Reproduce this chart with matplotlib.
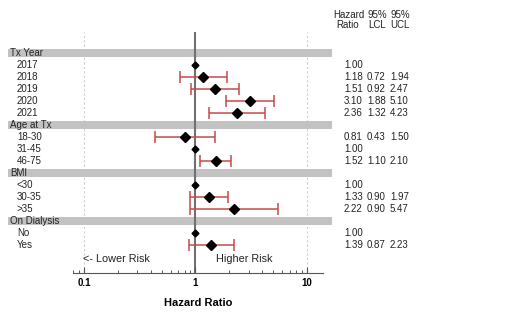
import numpy as np
import matplotlib
matplotlib.use("Agg")
import matplotlib.pyplot as plt
from matplotlib.patches import Rectangle
from matplotlib.transforms import blended_transform_factory
from matplotlib.ticker import LogLocator, NullFormatter, FixedLocator, FixedFormatter

plt.rcParams['font.family'] = ['Liberation Sans', 'DejaVu Sans']

# group headers and the rows under each one
groups = ["Tx Year", "Age at Tx", "BMI", "On Dialysis"]
labels = [
    ["2017", "2018", "2019", "2020", "2021"],
    ["18-30", "31-45", "46-75"],
    ["<30", "30-35", ">35"],
    ["No", "Yes"],
]
hr = [
    [1.00, 1.18, 1.51, 3.10, 2.36],
    [0.81, 1.00, 1.52],
    [1.00, 1.33, 2.22],
    [1.00, 1.39],
]
lcl = [
    [None, 0.72, 0.92, 1.88, 1.32],
    [0.43, None, 1.10],
    [None, 0.90, 0.90],
    [None, 0.87],
]
ucl = [
    [None, 1.94, 2.47, 5.10, 4.23],
    [1.50, None, 2.10],
    [None, 1.97, 5.47],
    [None, 2.23],
]
xticks = [0.1, 1, 10]
xtick_labels = ["0.1", "1", "10"]

W, H = 506, 323
fig = plt.figure(figsize=(W / 100, H / 100), dpi=100)

ax_l, ax_r = 73, 322.7
ax_t, ax_b = 32, 272.7
ax = fig.add_axes([ax_l / W, 1 - ax_b / H, (ax_r - ax_l) / W, (ax_b - ax_t) / H])
ax.set_xscale("log")
ax.set_xlim(0.0796, 13.9)
ax.set_ylim(18.3, -1.75)

for s in ["top", "right", "left"]:
    ax.spines[s].set_visible(False)
ax.spines["bottom"].set_color("#555555")
ax.spines["bottom"].set_linewidth(0.8)
ax.set_yticks([])

ax.xaxis.set_major_locator(FixedLocator(xticks))
ax.xaxis.set_major_formatter(FixedFormatter(xtick_labels))
ax.xaxis.set_minor_locator(LogLocator(base=10, subs=np.arange(2, 10)))
ax.xaxis.set_minor_formatter(NullFormatter())
ax.tick_params(axis="x", which="major", direction="in", length=4, width=0.8,
               color="#555555", labelsize=7, pad=4)
ax.tick_params(axis="x", which="minor", direction="in", length=2.5, width=0.7,
               color="#555555")
for t in ax.get_xticklabels():
    t.set_fontweight("bold")
ax.set_xlabel("Hazard Ratio", fontsize=8, fontweight="bold", labelpad=7)

# reference lines
ax.axvline(0.1, color="#cccccc", lw=0.8, ls=(0, (2, 2)), zorder=0)
ax.axvline(10, color="#cccccc", lw=0.8, ls=(0, (2, 2)), zorder=0)
ax.axvline(1, color="#707070", lw=1.5, zorder=1)

trans = blended_transform_factory(ax.transAxes, ax.transData)
x_band0 = (8 - ax_l) / (ax_r - ax_l)
x_band1 = (332 - ax_l) / (ax_r - ax_l)
x_lab_head = (10 - ax_l) / (ax_r - ax_l)
x_lab_sub = (17 - ax_l) / (ax_r - ax_l)
x_hr = (362.7 - ax_l) / (ax_r - ax_l)
x_lcl = (385.7 - ax_l) / (ax_r - ax_l)
x_ucl = (408.7 - ax_l) / (ax_r - ax_l)

txt = dict(fontsize=7, color="#222222", va="center", transform=trans, clip_on=False)

row = 0
for g, name in enumerate(groups):
    ax.add_patch(Rectangle((x_band0, row - 0.35), x_band1 - x_band0, 0.7,
                           transform=trans, facecolor="#c2c2c2", edgecolor="none",
                           clip_on=False, zorder=0))
    ax.text(x_lab_head, row, name, ha="left", **txt)
    row += 1
    for i, lab in enumerate(labels[g]):
        v, lo, hi = hr[g][i], lcl[g][i], ucl[g][i]
        ax.text(x_lab_sub, row, lab, ha="left", **txt)
        ax.text(x_hr, row, f"{v:.2f}", ha="right", **txt)
        if lo is None:
            ax.plot(v, row, marker="D", ms=3.5, color="black", zorder=3)
        else:
            ax.errorbar(v, row, xerr=[[v - lo], [hi - v]], fmt="none",
                        ecolor="#c8494b", elinewidth=1.1, capsize=4, capthick=1.1, zorder=2)
            ax.plot(v, row, marker="D", ms=5.5, color="black", zorder=3)
            ax.text(x_lcl, row, f"{lo:.2f}", ha="right", **txt)
            ax.text(x_ucl, row, f"{hi:.2f}", ha="right", **txt)
        row += 1

ax.text(0.097, row + 0.15, "<- Lower Risk", fontsize=7.8, ha="left", va="center", color="#222222")
ax.text(1.54, row + 0.15, "Higher Risk", fontsize=7.8, ha="left", va="center", color="#222222")

# column headers
hdr = dict(fontsize=7, color="#222222", ha="center", va="center")
fig.text(349 / W, 1 - 15 / H, "Hazard", **hdr)
fig.text(348 / W, 1 - 25 / H, "Ratio", **hdr)
fig.text(377 / W, 1 - 15 / H, "95%", **hdr)
fig.text(377 / W, 1 - 25 / H, "LCL", **hdr)
fig.text(400 / W, 1 - 15 / H, "95%", **hdr)
fig.text(400 / W, 1 - 25 / H, "UCL", **hdr)

fig.savefig("out.png", dpi=100, facecolor="white")
